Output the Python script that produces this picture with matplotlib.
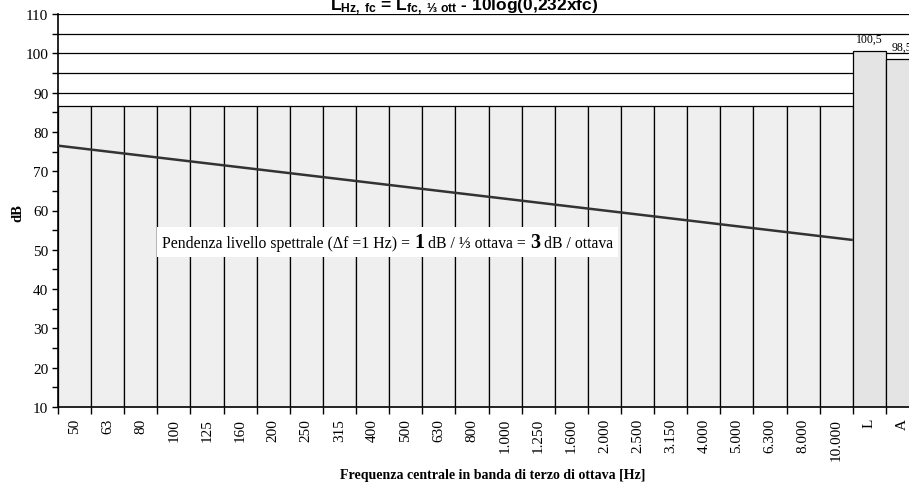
import matplotlib
matplotlib.use('Agg')
import matplotlib.pyplot as plt
import numpy as np
from matplotlib.ticker import MultipleLocator, FixedLocator
from matplotlib.offsetbox import TextArea, HPacker, AnnotationBbox

# ---- data ----
bands = ["50", "63", "80", "100", "125", "160", "200", "250", "315", "400",
         "500", "630", "800", "1.000", "1.250", "1.600", "2.000", "2.500",
         "3.150", "4.000", "5.000", "6.300", "8.000", "10.000"]
band_levels = [86.7, 86.7, 86.7, 86.7, 86.7, 86.7, 86.7, 86.7, 86.7, 86.7,
               86.7, 86.7, 86.7, 86.7, 86.7, 86.7, 86.7, 86.7, 86.7, 86.7,
               86.7, 86.7, 86.7, 86.7]
totals = ["L", "A"]
total_levels = [100.5, 98.5]
total_labels = ["100,5", "98,5"]
# spectral level (Δf = 1 Hz): at left edge of first band, right edge of last band
spectral_levels = [76.5, 52.5]

SERIF = "Liberation Serif"
SANS = "Liberation Sans"
plt.rcParams['mathtext.fontset'] = 'custom'
plt.rcParams['mathtext.rm'] = 'Liberation Sans:bold'
plt.rcParams['mathtext.it'] = 'Liberation Sans:bold'
plt.rcParams['mathtext.bf'] = 'Liberation Sans:bold'

W, H = 909, 485
fig = plt.figure(figsize=(W / 100, H / 100), dpi=100)
ax = fig.add_axes([58 / W, 77 / H, 861 / W, 393 / H])

n = len(bands)
x_b = np.arange(n)
x_t = np.arange(n, n + len(totals))

ax.bar(x_b, band_levels, width=1.0, color='#efefef', edgecolor='black', linewidth=0.9, zorder=2)
ax.bar(x_t, total_levels, width=1.0, color='#e4e4e4', edgecolor='black', linewidth=0.9, zorder=2)

ax.plot([-0.5, n - 0.5], spectral_levels, color='#333333', linewidth=1.8, zorder=3,
        solid_capstyle='butt')

for xi, v, lab in zip(x_t, total_levels, total_labels):
    ax.text(xi, v + 1.6, lab, ha='center', va='bottom', fontsize=8.5, family=SERIF)

ax.set_xlim(-0.5, n + len(totals) - 0.5)
ax.set_ylim(10, 110)

ax.yaxis.set_major_locator(MultipleLocator(10))
ax.yaxis.set_minor_locator(MultipleLocator(5))
ax.grid(True, axis='y', which='both', color='black', linewidth=0.9, zorder=1)
ax.set_axisbelow(True)

ax.set_xticks(np.arange(n + len(totals)))
ax.set_xticklabels(bands + totals, rotation=90, family=SERIF, fontsize=11)
ax.xaxis.set_minor_locator(FixedLocator(np.arange(-0.5, n + len(totals), 1)))
ax.tick_params(axis='x', which='major', length=0, pad=8)
ax.tick_params(axis='x', which='minor', length=5, width=1, direction='out')
ax.tick_params(axis='y', which='both', length=4, width=1, direction='out', pad=3)
for t in ax.get_yticklabels():
    t.set_family(SERIF)
    t.set_fontsize(11)

for s in ['top', 'right']:
    ax.spines[s].set_visible(False)
ax.spines['left'].set_linewidth(1.2)
ax.spines['bottom'].set_linewidth(1.2)

fig.text(18 / W, 1 - 213 / H, "dB", rotation=90, ha='center', va='center',
         family=SERIF, fontweight='bold', fontsize=10.5)
fig.text(493 / W, 1 - 476 / H, "Frequenza centrale in banda di terzo di ottava [Hz]",
         ha='center', va='center', family=SERIF, fontweight='bold', fontsize=10)

fig.text(464 / W, 1 - 10 / H,
         r"$L_{Hz,\ fc}$ = $L_{fc,\ ⅓\ ott}$ - 10log(0,232xfc)",
         ha='center', va='baseline', family=SANS, fontweight='bold', fontsize=12.5)

# annotation box
fs = 11.3
parts = [
    TextArea("Pendenza livello spettrale (\u0394f =1 Hz) = ", textprops=dict(family=SERIF, fontsize=fs)),
    TextArea("1", textprops=dict(family=SERIF, fontsize=14.5, fontweight='bold')),
    TextArea(" dB / \u2153 ottava = ", textprops=dict(family=SERIF, fontsize=fs)),
    TextArea("3", textprops=dict(family=SERIF, fontsize=14.5, fontweight='bold')),
    TextArea(" dB / ottava", textprops=dict(family=SERIF, fontsize=fs)),
]
pack = HPacker(children=parts, align='baseline', pad=0, sep=0)
ab = AnnotationBbox(pack, (2.65, 52.0), xycoords='data', box_alignment=(0, 0.5),
                    frameon=True, pad=0.35,
                    bboxprops=dict(facecolor='white', edgecolor='none'), zorder=5)
ax.add_artist(ab)

fig.savefig("out.png", dpi=100)
